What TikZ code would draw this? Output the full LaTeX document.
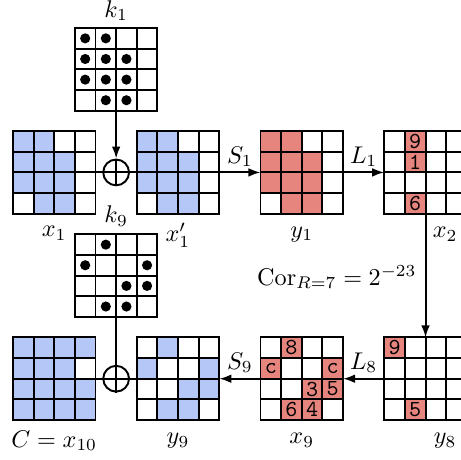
\documentclass[tikz,border=0pt]{standalone}
\usepackage{tikz}
\usepackage{xcolor}
\usetikzlibrary{arrows.meta, calc}
\definecolor{bluecell}{RGB}{180,199,246}
\definecolor{redcell}{RGB}{230,132,126}
\newcommand{\cells}[3]{\foreach \cx/\cy in {#3} \fill[#2] ($(#1.north west)+(\cx-1,1-\cy)$) rectangle ++(1,-1);}
\newcommand{\keydots}[2]{\foreach \cx/\cy in {#2} \fill ($(#1.north west)+(\cx-0.5,0.5-\cy)$) circle (2.1pt);}
\newcommand{\numcells}[2]{\foreach \cx/\cy/\txt in {#2} {\fill[redcell] ($(#1.north west)+(\cx-1,1-\cy)$) rectangle ++(1,-1); \node[num] (#1-\cx-\cy) at ($(#1.north west)+(\cx-0.5,0.5-\cy)$) {\txt};}}
\newcommand{\gridlines}[1]{\draw[thick, step=0.3cm] (#1.south west) grid (#1.north east) (#1.south west) rectangle (#1.north east);}

\begin{document}
\begin{tikzpicture}[
  x=0.3cm, y=0.3cm,
  gridbox/.style = {minimum size=1.2cm, inner sep=0, outer sep=0},
  xor/.style = {draw, thick, circle, minimum size=0.375cm, inner sep=0},
  num/.style = {font=\ttfamily\fontsize{9.5}{10}\selectfont, inner sep=0},
  lbl/.style = {inner sep=2pt},
  flow/.style = {->, thick},
  >={Latex[length=5pt, width=3.6pt]}
]
  \useasboundingbox (-0.63,1.36) rectangle (21.72,-20.94);

  \node[gridbox] (k1) at (5,-2) {};
  \node[gridbox] (x1) at (2,-7) {};
  \node[gridbox] (x1p) at (8,-7) {};
  \node[gridbox] (y1) at (14,-7) {};
  \node[gridbox] (x2) at (20,-7) {};
  \node[gridbox] (k9) at (5,-12) {};
  \node[gridbox] (c10) at (2,-17) {};
  \node[gridbox] (y9) at (8,-17) {};
  \node[gridbox] (x9) at (14,-17) {};
  \node[gridbox] (y8) at (20,-17) {};

  \cells{x1}{bluecell}{1/1,2/1,1/2,2/2,3/2,1/3,2/3,3/3,2/4,3/4}
  \cells{x1p}{bluecell}{1/1,2/1,1/2,2/2,3/2,1/3,2/3,3/3,2/4,3/4}
  \cells{y1}{redcell}{1/1,2/1,1/2,2/2,3/2,1/3,2/3,3/3,2/4,3/4}
  \numcells{x2}{2/1/9,2/2/1,2/4/6}
  \cells{c10}{bluecell}{1/1,2/1,3/1,4/1,1/2,2/2,3/2,1/3,2/3,3/3,4/3,1/4,2/4,3/4,4/4}
  \cells{y9}{bluecell}{2/1,1/2,4/2,3/3,4/3,2/4,3/4}
  \numcells{x9}{2/1/8,1/2/c,4/2/c,3/3/3,4/3/5,2/4/6,3/4/4}
  \numcells{y8}{1/1/9,2/4/5}

  \foreach \g in {k1,x1,x1p,y1,x2,k9,c10,y9,x9,y8} {\gridlines{\g}}

  \keydots{k1}{1/1,2/1,1/2,2/2,3/2,1/3,2/3,3/3,2/4,3/4}
  \keydots{k9}{2/1,1/2,4/2,3/3,4/3,2/4,3/4}

  \node[xor] (xor1) at (5,-7) {};
  \node[xor] (xor9) at (5,-17) {};

  \draw[thick] (x1.east) -- (x1p.west);
  \draw[thick] (xor1.north) -- (xor1.south);
  \draw[flow] (k1.south) -- (xor1.north);
  \draw[flow] (x1p.east) -- node[lbl, above] (s1) {$S_1$} (y1.west);
  \draw[flow] (y1.east) -- node[lbl, above] (l1) {$L_1$} (x2.west);
  \draw[flow] (x2.south) -- (y8.north);
  \draw[flow] (y8.west) -- node[lbl, above] (l8) {$L_8$} (x9.east);
  \draw[flow] (x9.west) -- node[lbl, above] (s9) {$S_9$} (y9.east);
  \draw[thick] (y9.west) -- (c10.east);
  \draw[thick] (k9.south) -- (xor9.south);

  \node (lk1) at (5,0.85) {$k_1$};
  \node (lk9) at (5,-9.12) {$k_9$};
  \node (lx1) at (2,-9.95) {$x_1$};
  \node (lx1p) at (8,-10.05) {$x_1'$};
  \node (ly1) at (14,-10) {$y_1$};
  \node (lx2) at (20.95,-10) {$x_2$};
  \node (lc10) at (2,-20) {$C = x_{10}$};
  \node (ly9) at (8,-20) {$y_9$};
  \node (lx9) at (14,-20) {$x_9$};
  \node (ly8) at (20.95,-20) {$y_8$};
  \node (cor) at (15.7,-12.07) {$\mathrm{Cor}_{R=7} = 2^{-23}$};
\end{tikzpicture}
\end{document}
